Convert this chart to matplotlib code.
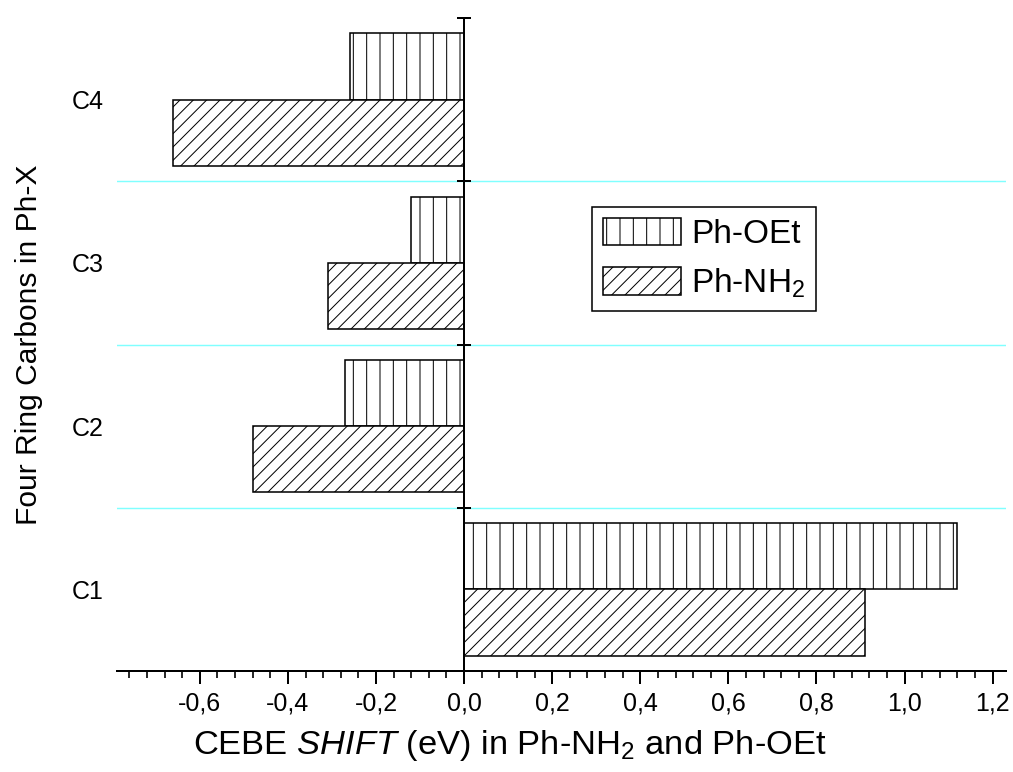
import numpy as np
import matplotlib
matplotlib.use('Agg')
import matplotlib.pyplot as plt
from matplotlib.ticker import MultipleLocator, FuncFormatter

plt.rcParams['font.family'] = ['Liberation Sans', 'DejaVu Sans']
plt.rcParams['mathtext.fontset'] = 'custom'
plt.rcParams['mathtext.rm'] = 'Liberation Sans'
plt.rcParams['mathtext.it'] = 'Liberation Sans:italic'
plt.rcParams['hatch.color'] = 'black'
plt.rcParams['hatch.linewidth'] = 0.9

# CEBE shifts (eV) for the four ring carbons
carbons = ['C1', 'C2', 'C3', 'C4']
shift_oet = [1.12, -0.27, -0.12, -0.26]
shift_nh2 = [0.91, -0.48, -0.31, -0.66]

DPI = 80
fig = plt.figure(figsize=(1013 / DPI, 772 / DPI), dpi=DPI)
ax = fig.add_axes([0.1155, 0.1308, 0.8775, 0.8459])

pos = np.arange(1, len(carbons) + 1)
h = 0.405
ax.barh(pos + h / 2, shift_oet, height=h, color='white', edgecolor='black',
        linewidth=1.4, hatch='|', label='Ph-OEt', zorder=2)
ax.barh(pos - h / 2, shift_nh2, height=h, color='white', edgecolor='black',
        linewidth=1.4, hatch='//', label='Ph-NH$_2$', zorder=2)

# separators between carbons
bounds = pos[:-1] + 0.5
for b in bounds:
    ax.axhline(b, color='#80ffff', lw=1.3, zorder=1)

ax.set_xlim(-0.788, 1.23)
ax.set_ylim(0.5, len(carbons) + 0.5)

# vertical axis through zero with crossing ticks
ax.axvline(0, color='black', lw=1.8, zorder=3)
ax.plot(np.zeros(len(pos)), pos + 0.5, ls='none', marker='_', ms=13,
        mew=1.8, color='black', clip_on=False, zorder=3)

for s in ['left', 'right', 'top']:
    ax.spines[s].set_visible(False)
ax.spines['bottom'].set_linewidth(1.8)

ax.xaxis.set_major_locator(MultipleLocator(0.2))
ax.xaxis.set_minor_locator(MultipleLocator(0.04))
ax.xaxis.set_major_formatter(FuncFormatter(lambda v, p: f'{v:.1f}'.replace('.', ',')))
ax.tick_params(axis='x', which='major', direction='out', length=11.5, width=1.8,
               labelsize=22.5, pad=7)
ax.tick_params(axis='x', which='minor', direction='out', length=6, width=1.5)

ax.set_yticks(pos)
ax.set_yticklabels(carbons)
ax.tick_params(axis='y', length=0, labelsize=22.5, pad=12)

ax.set_xlabel(r'CEBE $\mathit{SHIFT}$ (eV) in Ph-NH$_2$ and Ph-OEt', fontsize=31)
ax.xaxis.set_label_coords(0.442, -0.087)
ax.set_ylabel('Four Ring Carbons in Ph-X', fontsize=27, labelpad=26)

leg = ax.legend(loc='upper left', bbox_to_anchor=(592 / 1013, 1 - 207 / 772),
                bbox_transform=fig.transFigure, fontsize=30, fancybox=False,
                framealpha=1, edgecolor='black', handlelength=2.35,
                handleheight=0.9, handletextpad=0.3, labelspacing=0.5,
                borderpad=0.32, borderaxespad=0)
leg.get_frame().set_linewidth(1.4)

fig.savefig('out.png', dpi=DPI)
